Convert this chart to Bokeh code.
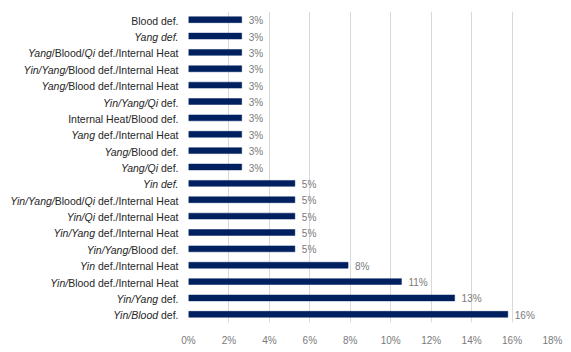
from bokeh.plotting import figure
from bokeh.models import ColumnDataSource, Range1d, FactorRange, SingleIntervalTicker, PrintfTickFormatter
from bokeh.core.properties import value
from bokeh.embed import file_html
from bokeh.resources import INLINE

# Categories top-to-bottom; *...* marks italic parts (as in the original)
labels_markup = [
    "Blood def.",
    "*Yang def.*",
    "*Yang*/Blood/*Qi* def./Internal Heat",
    "*Yin/Yang/*Blood def./Internal Heat",
    "*Yang/*Blood def./Internal Heat",
    "*Yin/Yang/Qi* def.",
    "Internal Heat/Blood def.",
    "*Yang* def./Internal Heat",
    "*Yang/*Blood def.",
    "*Yang/Qi* def.",
    "*Yin def.*",
    "*Yin/Yang/*Blood/*Qi* def./Internal Heat",
    "*Yin/Qi* def./Internal Heat",
    "*Yin/Yang* def./Internal Heat",
    "*Yin/Yang/*Blood def.",
    "*Yin* def./Internal Heat",
    "*Yin/*Blood def./Internal Heat",
    "*Yin/Yang* def.",
    "*Yin/Blood* def.",
]
categories = [s.replace("*", "") for s in labels_markup]
values = [2.63, 2.63, 2.63, 2.63, 2.63, 2.63, 2.63, 2.63, 2.63, 2.63,
          5.26, 5.26, 5.26, 5.26, 5.26, 7.89, 10.53, 13.16, 15.79]
value_labels = ["%d%%" % int(v + 0.5) for v in values]

BAR = "#002060"
LABEL_FONT = "Liberation Sans"
LABEL_SIZE = 10.5

# Liberation Sans (Arial-metric) advance widths, per 1000 em (italic identical)
ADV = {' ': 278, '/': 278, '.': 278, 'B': 667, 'Y': 667, 'I': 278, 'H': 722,
       'Q': 778, 'a': 556, 'd': 556, 'e': 556, 'f': 278, 'g': 556, 'i': 222,
       'l': 222, 'n': 556, 'o': 556, 'r': 333, 't': 278}

def seg_width(s):
    return sum(ADV.get(c, 556) for c in s) * LABEL_SIZE / 1000.0

p = figure(width=571, height=352, output_backend="svg", toolbar_location=None,
           x_range=Range1d(0, 18), y_range=FactorRange(factors=categories[::-1]),
           min_border_left=188, min_border_right=19, min_border_top=11,
           min_border_bottom=30)
p.outline_line_color = None
p.background_fill_color = "white"
p.border_fill_color = "white"

src = ColumnDataSource(dict(cat=categories, val=values, lab=value_labels))
p.hbar(y="cat", right="val", left=0, height=0.36, source=src,
       fill_color=BAR, line_color=BAR, line_width=0.5)

vr = p.text(x="val", y="cat", text="lab", source=src, x_offset=7, y_offset=1,
            text_align="left", text_baseline="middle",
            text_font=value(LABEL_FONT), text_font_size="10px", text_color="#7a7a7a")

# category labels with mixed italic segments
seg = dict(x=[], y=[], t=[], st=[], xo=[])
for cat, mk in zip(categories, labels_markup):
    parts = mk.split("*")
    segs = [[txt, "italic" if i % 2 == 1 else "normal"] for i, txt in enumerate(parts) if txt]
    # move leading spaces to the end of the previous segment (SVG collapses them)
    for k in range(1, len(segs)):
        while segs[k][0].startswith(" "):
            segs[k][0] = segs[k][0][1:]
            segs[k - 1][0] = segs[k - 1][0] + " "
    right = -10.0
    for txt, st in reversed(segs):
        seg["x"].append(0)
        seg["y"].append(cat)
        seg["t"].append(txt)
        seg["st"].append(st)
        seg["xo"].append(right)
        right -= seg_width(txt)
lr = p.text(x="x", y="y", text="t", x_offset="xo", y_offset=1, source=ColumnDataSource(seg),
            text_font_style="st", text_align="right", text_baseline="middle",
            text_font=value(LABEL_FONT), text_font_size="%gpx" % LABEL_SIZE,
            text_color="#262626")
lr.level = "annotation"

p.yaxis.visible = False
p.ygrid.grid_line_color = None

p.xaxis.ticker = SingleIntervalTicker(interval=2)
p.xaxis.formatter = PrintfTickFormatter(format="%d%%")
p.xaxis.axis_line_color = None
p.xaxis.major_tick_line_color = None
p.xaxis.minor_tick_line_color = None
p.xaxis.major_tick_out = 0
p.xaxis.major_label_standoff = 8
p.xaxis.major_label_text_font = LABEL_FONT
p.xaxis.major_label_text_font_size = "10px"
p.xaxis.major_label_text_color = "#7a7a7a"
p.xgrid.ticker = SingleIntervalTicker(interval=2)
p.xgrid.grid_line_color = "#d9d9d9"
p.xgrid.grid_line_width = 1

open("out.html", "w").write(file_html(p, INLINE))
